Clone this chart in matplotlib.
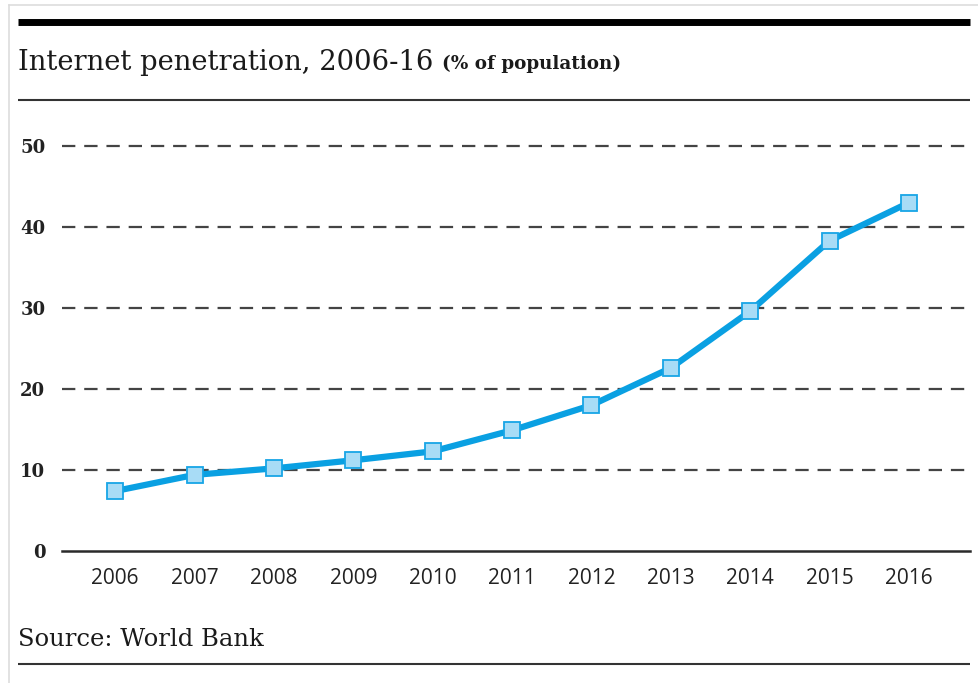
import matplotlib
matplotlib.use("Agg")
import matplotlib.pyplot as plt
from matplotlib.lines import Line2D

years = [2006, 2007, 2008, 2009, 2010, 2011, 2012, 2013, 2014, 2015, 2016]
penetration = [7.4, 9.4, 10.2, 11.2, 12.3, 14.9, 18.0, 22.6, 29.6, 38.3, 43.0]
y_ticks = [0, 10, 20, 30, 40, 50]

title = "Internet penetration, 2006-16"
subtitle = "(% of population)"
source = "Source: World Bank"

W, H = 979, 683
fig = plt.figure(figsize=(W / 100, H / 100), dpi=100)
fig.patch.set_facecolor("white")

def fx(px):
    return px / W

def fy(py):
    return 1 - py / H

ax = fig.add_axes([fx(62), fy(551), fx(970) - fx(62), fy(146) - fy(551)])
ax.set_xlim(2005.33, 2016.77)
ax.set_ylim(0, 50)

for v in y_ticks[1:]:
    ax.axhline(v, color="#444444", lw=1.6, dashes=(6, 4), zorder=1, clip_on=False)
ax.axhline(0, color="#2a2a2a", lw=1.8, zorder=1, clip_on=False)

ax.plot(years, penetration, color="#0aa0e2", lw=4.5, solid_capstyle="round",
        marker="s", markersize=11, markerfacecolor="#a8dcf6",
        markeredgecolor="#17a5e6", markeredgewidth=1.3, zorder=3, clip_on=False)

for s in ax.spines.values():
    s.set_visible(False)
ax.set_xticks(years)
ax.set_xticklabels([str(y) for y in years], family="Open Sans", fontsize=15, color="#222222")
ax.set_yticks(y_ticks)
ax.set_yticklabels([str(v) for v in y_ticks], family="DejaVu Serif", fontweight="bold",
                   fontsize=13, color="#222222")
ax.tick_params(axis="both", length=0)
ax.tick_params(axis="x", pad=12)
ax.tick_params(axis="y", pad=12)

# frame decorations
fig.add_artist(Line2D([fx(9), fx(9)], [fy(5), 0], color="#dddddd", lw=1.2))
fig.add_artist(Line2D([fx(9), 1], [fy(5), fy(5)], color="#dddddd", lw=1.2))
fig.add_artist(Line2D([fx(18), fx(970)], [fy(22), fy(22)], color="black", lw=5,
                      solid_capstyle="butt"))
fig.add_artist(Line2D([fx(18), fx(970)], [fy(100), fy(100)], color="#333333", lw=1.5,
                      solid_capstyle="butt"))
fig.add_artist(Line2D([fx(18), fx(970)], [fy(664), fy(664)], color="#333333", lw=1.5,
                      solid_capstyle="butt"))

t = fig.text(fx(18), fy(62), title, family="DejaVu Serif", fontsize=19.7,
             color="#1a1a1a", va="center", ha="left")
fig.canvas.draw()
bb = t.get_window_extent()
fig.text(bb.x1 / W + fx(9), fy(64), subtitle, family="DejaVu Serif", fontweight="bold",
         fontsize=13.2, color="#1a1a1a", va="center", ha="left")

fig.text(fx(18), fy(639), source, family="DejaVu Serif", fontsize=17.5,
         color="#1a1a1a", va="center", ha="left")

fig.savefig("out.png", dpi=100, facecolor="white")
